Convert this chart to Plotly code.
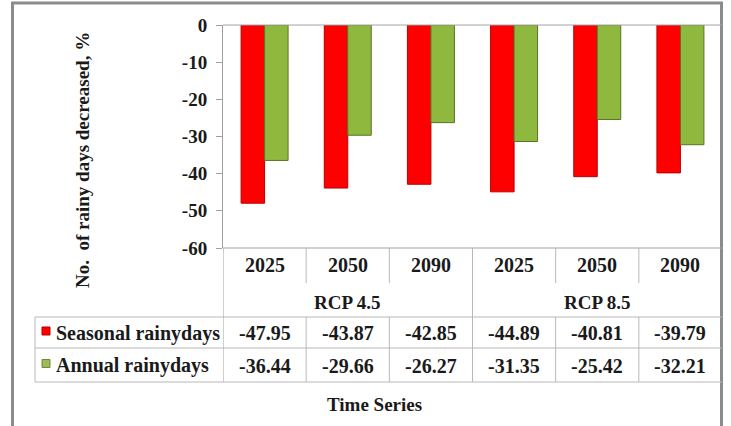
import plotly.graph_objects as go

# Projected change in rainy days (%) per period and scenario
periods = ["2025", "2050", "2090", "2025", "2050", "2090"]
scenarios = ["RCP 4.5", "RCP 8.5"]
seasonal = [-47.95, -43.87, -42.85, -44.89, -40.81, -39.79]
annual = [-36.44, -29.66, -26.27, -31.35, -25.42, -32.21]
series_names = ["Seasonal rainydays", "Annual rainydays"]
y_ticks = [0, -10, -20, -30, -40, -50, -60]

W, H = 731, 426
FONT = "Liberation Serif, Times New Roman, serif"
INK = "#1a1a1a"
GRID = "#b8b8b8"
RED, RED_EDGE = "#ff0000", "#b80000"
GREEN, GREEN_EDGE = "#8fb83f", "#5a7424"


def px(x):
    return x / W


def py(y):
    return 1 - y / H


# pixel layout of plot area and table
PL, PR, PT, PB = 223, 722, 25, 248
ROW_YEAR_END, ROW_RCP_END, ROW1_END, ROW2_END = 283, 317, 348, 382
TABLE_LEFT = 35

x_idx = list(range(len(periods)))

fig = go.Figure()
fig.add_trace(go.Bar(
    x=x_idx, y=seasonal, name=series_names[0],
    marker=dict(color=RED, line=dict(color=RED_EDGE, width=1)),
    hoverinfo="y",
))
fig.add_trace(go.Bar(
    x=x_idx, y=annual, name=series_names[1],
    marker=dict(color=GREEN, line=dict(color=GREEN_EDGE, width=1)),
    hoverinfo="y",
))

shapes = []
annotations = []


def hline(y, x0, x1, color=GRID, width=1):
    shapes.append(dict(type="line", xref="paper", yref="paper",
                       x0=px(x0), x1=px(x1), y0=py(y), y1=py(y),
                       line=dict(color=color, width=width)))


def vline_data(xv, y0, y1, color=GRID, width=1):
    shapes.append(dict(type="line", xref="x", yref="paper",
                       x0=xv, x1=xv, y0=py(y0), y1=py(y1),
                       line=dict(color=color, width=width)))


def label(x, y, text, size=20, xref="paper", xanchor="center", angle=0):
    annotations.append(dict(
        x=x, y=py(y), xref=xref, yref="paper", text=f"<b>{text}</b>",
        showarrow=False, xanchor=xanchor, yanchor="middle",
        textangle=angle,
        font=dict(family=FONT, size=size, color=INK)))


# outer frame
shapes.append(dict(type="rect", xref="paper", yref="paper",
                   x0=px(12.5), x1=px(721.5), y0=-0.05, y1=py(3),
                   line=dict(color="#8c8c8c", width=3)))

# zero line at the top of the plot
hline(PT, PL, PR, color="#a6a6a6")

# table grid
hline(PB, PL, PR, color="#a0a0a0")
hline(ROW_RCP_END, TABLE_LEFT, PR)
hline(ROW1_END, TABLE_LEFT, PR)
hline(ROW2_END, TABLE_LEFT, PR)
shapes.append(dict(type="line", xref="paper", yref="paper",
                   x0=px(TABLE_LEFT), x1=px(TABLE_LEFT),
                   y0=py(ROW_RCP_END), y1=py(ROW2_END),
                   line=dict(color=GRID, width=1)))
vline_data(-0.5, PB, ROW2_END, color="#a0a0a0")
n = len(periods)
group = n // len(scenarios)
for i in range(n - 1):
    b = i + 0.5
    if (i + 1) % group == 0:
        vline_data(b, PB, ROW2_END)
    else:
        vline_data(b, PB, ROW_YEAR_END)
        vline_data(b, ROW_RCP_END, ROW2_END)

# period labels
for i, p in enumerate(periods):
    label(i, 265, p, xref="x")

# scenario labels
for k, s in enumerate(scenarios):
    label(k * group + (group - 1) / 2, 302, s, size=19, xref="x")

# value rows
row_y = [333, 365.5]
for r, vals in enumerate([seasonal, annual]):
    for i, v in enumerate(vals):
        label(i, row_y[r], f"{v:.2f}", xref="x")

# legend keys inside the table
key_colors = [(RED, RED_EDGE), ("#9bbb59", "#6f8a35")]
for r, name in enumerate(series_names):
    yc = row_y[r] - 2
    shapes.append(dict(type="rect", xref="paper", yref="paper",
                       x0=px(42), x1=px(50), y0=py(yc + 4), y1=py(yc - 4),
                       fillcolor=key_colors[r][0],
                       line=dict(color=key_colors[r][1], width=1)))
    label(px(54), row_y[r], name, xanchor="left")

# axis titles
label(px(82), 160, "No.\u00a0 of rainy days decreased, %", size=19, angle=-90)
label(px(375), 404, "Time Series", size=19)

fig.update_layout(
    width=W, height=H,
    margin=dict(l=0, r=0, t=0, b=0, pad=0),
    paper_bgcolor="white", plot_bgcolor="white",
    barmode="group", bargap=0.435, bargroupgap=0,
    showlegend=False,
    shapes=shapes, annotations=annotations,
    xaxis=dict(domain=[px(PL), px(PR)], range=[-0.5, n - 0.5],
               visible=False, fixedrange=True, automargin=False),
    yaxis=dict(domain=[py(PB), py(PT)], range=[-60, 0],
               tickvals=y_ticks,
               ticktext=[f"<b>{t}</b>" for t in y_ticks],
               showline=True, linecolor="#a0a0a0", linewidth=1,
               ticks="outside", ticklen=6, tickcolor="#a0a0a0",
               ticklabelstandoff=5, showgrid=False, zeroline=False,
               automargin=False,
               tickfont=dict(family=FONT, size=19, color=INK),
               fixedrange=True),
)

fig.write_html("out.html")
